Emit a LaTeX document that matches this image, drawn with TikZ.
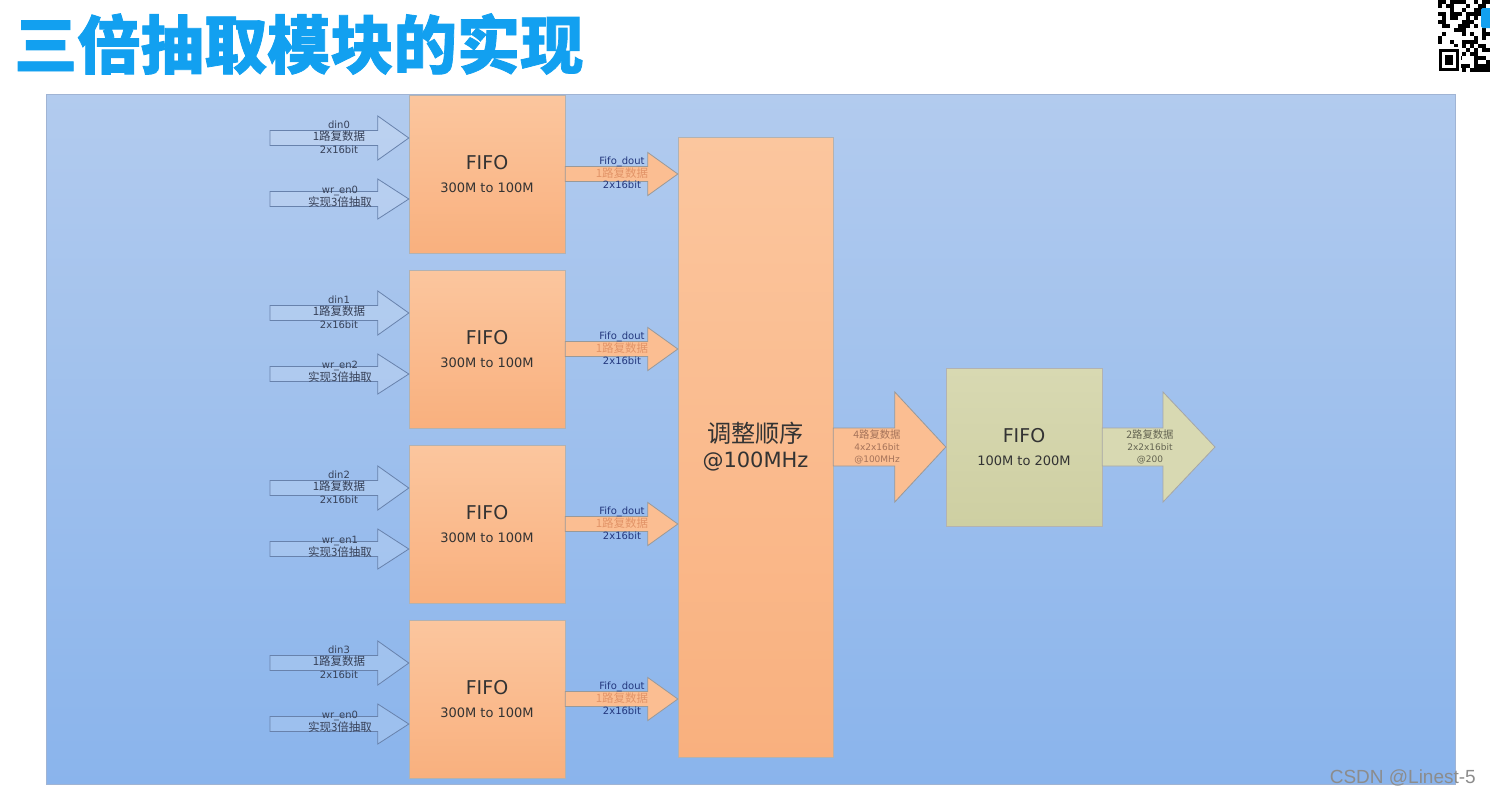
\documentclass[tikz,border=0pt]{standalone}
\usepackage{fontspec}
\setmainfont{DejaVu Sans}
\newfontfamily\cjk[Scale=1.15]{Noto Sans CJK SC}
\newfontfamily\cjktitle[Scale=1.15, BoldFeatures={FakeBold=1.2}]{Noto Sans CJK SC}
\newfontfamily\wmfont{Liberation Sans}
\usetikzlibrary{calc}

\definecolor{titleblue}{RGB}{18,160,240}
\definecolor{paneltop}{RGB}{178,203,238}
\definecolor{panelbot}{RGB}{138,180,236}
\definecolor{panelline}{RGB}{160,180,212}
\definecolor{orangetop}{RGB}{251,198,158}
\definecolor{orangebot}{RGB}{249,176,126}
\definecolor{orangefill}{RGB}{251,190,146}
\definecolor{greentop}{RGB}{216,217,178}
\definecolor{greenbot}{RGB}{206,207,162}
\definecolor{inline}{RGB}{104,130,172}
\definecolor{intext}{RGB}{55,65,88}
\definecolor{douttext}{RGB}{35,55,125}
\definecolor{doutcjk}{RGB}{226,148,104}
\definecolor{bigtext}{RGB}{165,115,90}
\definecolor{greentext}{RGB}{100,100,82}

% block arrow: style, from, to, shaft half width, head half width, head length
\newcommand{\blockarrow}[6]{%
  \draw[#1] let \p1=(#2), \p2=(#3) in
    (\x1,\y1+#4pt) -- (\x2-#6pt,\y1+#4pt) -- (\x2-#6pt,\y1+#5pt) -- (\x2,\y1)
    -- (\x2-#6pt,\y1-#5pt) -- (\x2-#6pt,\y1-#4pt) -- (\x1,\y1-#4pt) -- cycle;}

\begin{document}
\begin{tikzpicture}[x=1pt, y=-1pt,
    fifo/.style={rectangle, draw=black!30, top color=orangetop, bottom color=orangebot, minimum width=156pt, minimum height=158pt, align=center, text=black!80, font=\fontsize{19}{23}\selectfont},
    inarrow/.style={draw=inline, fill=white, fill opacity=0.14, draw opacity=1, line width=0.8pt},
    outarrow/.style={draw=black!40, fill=orangefill, line width=0.8pt},
    greenarrow/.style={draw=black!35, fill=greentop, line width=0.8pt},
    lbl/.style={align=center, text=intext, font=\fontsize{10}{12.5}\selectfont},
    doutlbl/.style={align=center, text=douttext, font=\fontsize{10}{11.5}\selectfont}
]
    \useasboundingbox (0,0) rectangle (1490,796);
    \fill[white] (0,0) rectangle (1490,796);

    % title
    \node[anchor=west, inner sep=0pt, text=titleblue, font=\cjktitle\bfseries\fontsize{55}{60}\selectfont] (title) at (14,44) {三倍抽取模块的实现};

    % qr code
    \pgfmathsetseed{11}
    \foreach \i in {0,...,12}
      \foreach \j in {0,...,17}{
        \pgfmathparse{rnd>0.5 ? 1 : 0}
        \ifnum\pgfmathresult=1 \fill[black] (1438+4*\i,4*\j) rectangle ++(4,4); \fi
      }
    \fill[white] (1437,47) rectangle (1461,73);
    \draw[black, line width=3pt] (1440,50.5) rectangle (1457.5,69);
    \fill[black] (1444.5,55) rectangle (1453,64.5);
    \fill[titleblue, rounded corners=1.5pt] (1481,8) rectangle (1494,28);

    % panel
    \fill[top color=paneltop, bottom color=panelbot] (46,94) rectangle (1455,784);
    \draw[panelline, line width=0.6pt] (46,94) rectangle (1455,784);

    % input FIFOs
    \node[fifo] (fifo0) at (487,174) {FIFO\\{\fontsize{13}{15}\selectfont 300M to 100M}};
    \node[fifo] (fifo1) at (487,349) {FIFO\\{\fontsize{13}{15}\selectfont 300M to 100M}};
    \node[fifo] (fifo2) at (487,524) {FIFO\\{\fontsize{13}{15}\selectfont 300M to 100M}};
    \node[fifo] (fifo3) at (487,699) {FIFO\\{\fontsize{13}{15}\selectfont 300M to 100M}};

    % reorder block
    \node[fifo, minimum width=155pt, minimum height=620pt, font=\fontsize{21}{25}\selectfont] (reorder) at (755.5,447) {{\cjk 调整顺序}\\@100MHz};

    % output FIFO
    \node[fifo, top color=greentop, bottom color=greenbot] (fifo4) at (1024,447) {FIFO\\{\fontsize{13}{15}\selectfont 100M to 200M}};

    % input arrows
    \coordinate (din0) at (270,138);  \coordinate (wen0) at (270,199);
    \coordinate (din1) at (270,313);  \coordinate (wen1) at (270,374);
    \coordinate (din2) at (270,488);  \coordinate (wen2) at (270,549);
    \coordinate (din3) at (270,663);  \coordinate (wen3) at (270,724);
    \blockarrow{inarrow}{din0}{fifo0.west}{7.5}{22}{31}
    \blockarrow{inarrow}{wen0}{fifo0.west}{7.5}{20}{31}
    \blockarrow{inarrow}{din1}{fifo1.west}{7.5}{22}{31}
    \blockarrow{inarrow}{wen1}{fifo1.west}{7.5}{20}{31}
    \blockarrow{inarrow}{din2}{fifo2.west}{7.5}{22}{31}
    \blockarrow{inarrow}{wen2}{fifo2.west}{7.5}{20}{31}
    \blockarrow{inarrow}{din3}{fifo3.west}{7.5}{22}{31}
    \blockarrow{inarrow}{wen3}{fifo3.west}{7.5}{20}{31}

    \node[lbl] (ldin0) at (339,137) {din0\\{\cjk 1路复数据}\\2x16bit};
    \node[lbl] (lwen0) at (340,197) {wr\_en0\\{\cjk 实现3倍抽取}};
    \node[lbl] (ldin1) at (339,312) {din1\\{\cjk 1路复数据}\\2x16bit};
    \node[lbl] (lwen1) at (340,372) {wr\_en2\\{\cjk 实现3倍抽取}};
    \node[lbl] (ldin2) at (339,487) {din2\\{\cjk 1路复数据}\\2x16bit};
    \node[lbl] (lwen2) at (340,547) {wr\_en1\\{\cjk 实现3倍抽取}};
    \node[lbl] (ldin3) at (339,662) {din3\\{\cjk 1路复数据}\\2x16bit};
    \node[lbl] (lwen3) at (340,722) {wr\_en0\\{\cjk 实现3倍抽取}};

    % fifo outputs
    \blockarrow{outarrow}{fifo0.east}{reorder.west}{7.5}{21.5}{30}
    \blockarrow{outarrow}{fifo1.east}{reorder.west}{7.5}{21.5}{30}
    \blockarrow{outarrow}{fifo2.east}{reorder.west}{7.5}{21.5}{30}
    \blockarrow{outarrow}{fifo3.east}{reorder.west}{7.5}{21.5}{30}
    \node[doutlbl] (ldout0) at (622,173) {Fifo\_dout\\{\cjk\color{doutcjk}1路复数据}\\2x16bit};
    \node[doutlbl] (ldout1) at (622,348) {Fifo\_dout\\{\cjk\color{doutcjk}1路复数据}\\2x16bit};
    \node[doutlbl] (ldout2) at (622,523) {Fifo\_dout\\{\cjk\color{doutcjk}1路复数据}\\2x16bit};
    \node[doutlbl] (ldout3) at (622,698) {Fifo\_dout\\{\cjk\color{doutcjk}1路复数据}\\2x16bit};

    % reorder to output fifo, output fifo out
    \coordinate (dout) at (1215,447);
    \blockarrow{outarrow}{reorder.east}{fifo4.west}{19}{55}{51}
    \blockarrow{greenarrow}{fifo4.east}{dout}{19}{55}{52}
    \node[lbl, text=bigtext, font=\fontsize{9}{12}\selectfont] (lmid) at (877,447) {{\cjk 4路复数据}\\4x2x16bit\\@100MHz};
    \node[lbl, text=greentext, font=\fontsize{9}{12}\selectfont] (lout) at (1150,447) {{\cjk 2路复数据}\\2x2x16bit\\@200};

    % watermark
    \node[anchor=east, inner sep=0pt, text=black!45, font=\wmfont\fontsize{19}{20}\selectfont] (wm) at (1476,778) {CSDN @Linest-5};
\end{tikzpicture}
\end{document}
